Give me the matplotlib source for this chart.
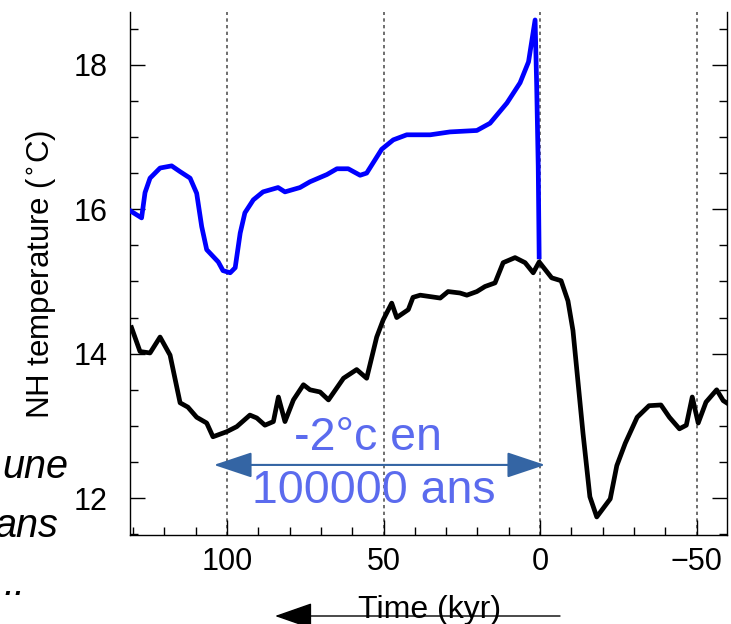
import numpy as np
import matplotlib
matplotlib.use('Agg')
import matplotlib.pyplot as plt
from matplotlib.ticker import MultipleLocator

plt.rcParams['font.family'] = ['Liberation Sans', 'DejaVu Sans']

# modelled NH temperature, time in kyr before present (negative = future)
blue_x = [131, 127.3, 126.2, 124.6, 121.4, 117.7, 115, 111.8, 109.7, 108.1, 106.5,
          102.8, 101.3, 99, 97.4, 95.8, 94.3, 91.6, 88.5, 83.7, 81.5, 76.7, 73.5,
          68.1, 64.9, 61.3, 57.5, 55.4, 50.6, 46.9, 42.6, 35.1, 28.8, 20.2, 16,
          10.6, 6.4, 3.7, 1.6, 1.1, 0.6, 0.3]
blue_y = [15.98, 15.88, 16.23, 16.43, 16.57, 16.6, 16.52, 16.43, 16.22, 15.76, 15.44,
          15.27, 15.15, 15.12, 15.19, 15.67, 15.95, 16.13, 16.24, 16.3, 16.24, 16.3, 16.38,
          16.48, 16.56, 16.56, 16.47, 16.5, 16.83, 16.96, 17.03, 17.03, 17.07, 17.09, 17.19,
          17.47, 17.75, 18.04, 18.62, 17.72, 16.59, 15.34]

black_x = [130.5, 127.8, 124.6, 121.4, 118.2, 115, 112.5, 109.7, 106.5, 104.5, 100.1,
           96.9, 92.7, 90.5, 87.9, 85.2, 83.6, 81.5, 78.8, 75.6, 73.5, 70.3, 67.6,
           62.8, 58.6, 55.4, 52.2, 50.1, 47.4, 45.8, 42.1, 40.6, 38.3, 35.1, 31.9,
           29.4, 25.6, 23.4, 20.2, 17.6, 14.4, 11.8, 8, 4.8, 2.2, 0.3, -3.7, -6.7,
           -8.9, -10.5, -12.1, -13.7, -15.9, -18.1, -22.4, -24.5, -27.2, -31, -34.8,
           -38.6, -41.3, -44.5, -46.7, -48.6, -50.5, -53, -56.4, -58.5, -61]
black_y = [14.36, 14.03, 14.01, 14.23, 13.98, 13.32, 13.26, 13.12, 13.04, 12.85, 12.92,
           12.99, 13.15, 13.11, 13.01, 13.06, 13.4, 13.06, 13.36, 13.57, 13.5, 13.47, 13.36,
           13.66, 13.78, 13.66, 14.23, 14.47, 14.7, 14.5, 14.61, 14.78, 14.81, 14.79, 14.77,
           14.86, 14.84, 14.81, 14.86, 14.93, 14.98, 15.26, 15.33, 15.26, 15.12, 15.27, 15.05, 15.01,
           14.73, 14.32, 13.61, 12.9, 12.02, 11.74, 11.99, 12.45, 12.76, 13.12, 13.28,
           13.29, 13.12, 12.96, 13.01, 13.4, 13.04, 13.33, 13.5, 13.35, 13.28]

grid_x = [100, 50, 0, -50]

W, H = 731, 624
fig = plt.figure(figsize=(W / 100, H / 100), dpi=100)
ax = fig.add_axes([130 / W, 1 - 535 / H, (727 - 130) / W, (535 - 12) / H])

for g in grid_x:
    ax.axvline(g, color='#555555', ls=(0, (2, 2)), lw=1.2, zorder=1)

ax.plot(blue_x, blue_y, color='#0000ff', lw=3.4, zorder=3)
ax.plot(black_x, black_y, color='black', lw=3.4, zorder=3)

ax.set_xlim(131, -59.7)
ax.set_ylim(11.49, 18.73)
ax.xaxis.set_major_locator(MultipleLocator(50))
ax.xaxis.set_minor_locator(MultipleLocator(10))
ax.yaxis.set_major_locator(MultipleLocator(2))
ax.yaxis.set_minor_locator(MultipleLocator(0.5))
ax.spines['top'].set_visible(False)
for s in ['left', 'right', 'bottom']:
    ax.spines[s].set_linewidth(1.0)
ax.tick_params(which='both', direction='in', top=False, right=True, labelsize=22)
ax.tick_params(which='major', length=11, width=1)
ax.tick_params(which='minor', length=6, width=1)
ax.tick_params(axis='y', pad=16)
ax.tick_params(axis='x', pad=9)
ax.set_xticks([100, 50, 0, -50])
ax.set_xticklabels(['100', '50', '0', '\u221250'])

fig.text(41 / W, 1 - 274 / H, r'NH temperature ($^{\circ}$C)', rotation=90,
         ha='center', va='center', fontsize=22.5)
fig.text(430 / W, 1 - 618 / H, 'Time (kyr)', ha='center', va='baseline', fontsize=23)

# arrow under the axis label
fig.patches.append(matplotlib.patches.FancyArrowPatch(
    (560 / W, 1 - 616 / H), (275 / W, 1 - 616 / H), transform=fig.transFigure,
    arrowstyle='-|>,head_length=1.2,head_width=0.42', mutation_scale=20,
    color='black', lw=1.0, shrinkA=0, shrinkB=0))

# annotation of the cooling
ax.annotate('', xy=(-1.6, 12.46), xytext=(104.2, 12.46),
            arrowprops=dict(arrowstyle='<|-|>,head_length=1.2,head_width=0.4',
                            mutation_scale=20, color='#3465a4', lw=1.5,
                            shrinkA=0, shrinkB=0), zorder=4)
ax.text(55, 12.67, '-2°c en', color='#5b6bee', fontsize=33.5, ha='center', va='baseline', zorder=5)
ax.text(53, 11.93, '100000 ans', color='#5b6bee', fontsize=33.5, ha='center', va='baseline', zorder=5)

# pieces of a text cut off at the left border
fig.text(68 / W, 1 - 478 / H, 'une', style='italic', fontsize=28.5, ha='right', va='baseline')
fig.text(58 / W, 1 - 537 / H, 'ans', style='italic', fontsize=28.5, ha='right', va='baseline')
fig.text(25 / W, 1 - 595 / H, '..', style='italic', fontsize=28.5, ha='right', va='baseline')

fig.savefig('out.png', dpi=100)
